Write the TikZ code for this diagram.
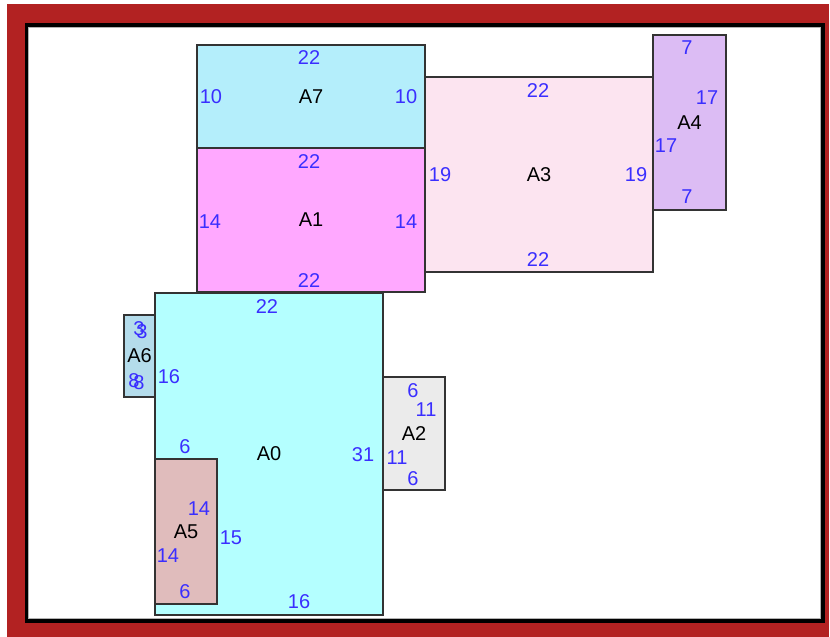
\documentclass[tikz,border=0pt]{standalone}
\usepackage{fontspec}
\setmainfont{Liberation Sans}
\definecolor{frame}{HTML}{B22222}
\definecolor{edge}{HTML}{333333}
\definecolor{lbl}{HTML}{3A2EFF}
\definecolor{cA7}{HTML}{B4EEFB}
\definecolor{cA1}{HTML}{FFA8FF}
\definecolor{cA3}{HTML}{FCE4F0}
\definecolor{cA4}{HTML}{DCBCF4}
\definecolor{cA0}{HTML}{B4FFFF}
\definecolor{cA6}{HTML}{B4DCEB}
\definecolor{cA2}{HTML}{EBEBEB}
\definecolor{cA5}{HTML}{E0BCBC}
\tikzset{
  room/.style={draw=edge, line width=2pt, rectangle, inner sep=0pt, outer sep=0pt,
    font=\fontsize{20}{23}\selectfont, text=black},
  dim/.style={inner sep=0pt, text=lbl, font=\fontsize{20}{23}\selectfont},
}
\newcommand{\roombox}[6]{% name, x1, y1, x2, y2, colour
  \node[room, fill=#6, minimum width={(#4-#2)*1pt}, minimum height={(#5-#3)*1pt}]
    (#1) at ({(#2+#4)/2},{(#3+#5)/2}) {#1};}
\begin{document}
\begin{tikzpicture}[x=1pt, y=-1pt]
\useasboundingbox (0,0) rectangle (830,637);
% frame
\fill[frame] (7,4) rectangle (829,637);
\fill[black] (25,23) rectangle (825,623);
\fill[white] (28,27) rectangle (821,619);
\draw[gray!60, line width=0.8pt] (28.5,27.5) rectangle (820.5,618.5);
% rooms
\roombox{A7}{197}{45}{425}{148}{cA7}
\roombox{A1}{197}{148}{425}{292}{cA1}
\roombox{A3}{425}{77}{653}{272}{cA3}
\roombox{A4}{653}{35}{726}{210}{cA4}
\roombox{A6}{124}{315}{155}{397}{cA6}
\roombox{A0}{155}{293}{383}{615}{cA0}
\roombox{A2}{383}{377}{445}{490}{cA2}
\roombox{A5}{155}{459}{217}{604}{cA5}
% A7 labels
\node[dim] (A7t) at (309,58) {22};
\node[dim] (A7l) at (211,97) {10};
\node[dim] (A7r) at (406,97) {10};
% A1 labels
\node[dim] (A1t) at (309,162) {22};
\node[dim] (A1l) at (210,222) {14};
\node[dim] (A1r) at (406,222) {14};
\node[dim] (A1b) at (309,281) {22};
% A3 labels
\node[dim] (A3t) at (538,91) {22};
\node[dim] (A3l) at (440,175) {19};
\node[dim] (A3r) at (636,175) {19};
\node[dim] (A3b) at (538,260) {22};
% A4 labels
\node[dim] (A4t) at (687,48) {7};
\node[dim] (A4r) at (707,98) {17};
\node[dim] (A4l) at (666,146) {17};
\node[dim] (A4b) at (687,197) {7};
% A0 labels
\node[dim] (A0t) at (267,307) {22};
\node[dim] (A0l) at (169,377) {16};
\node[dim] (A0r) at (363,455) {31};
\node[dim] (A0b) at (299,602) {16};
\node[dim] (A0s) at (185,447) {6};
\node[dim] (A0m) at (231,538) {15};
% A6 labels (overlapping in the original)
\node[dim] (A6ta) at (139,329) {3};
\node[dim] (A6tb) at (142,332) {3};
\node[dim] (A6ba) at (134,381) {8};
\node[dim] (A6bb) at (139,383) {8};
% A2 labels
\node[dim] (A2t) at (413,391) {6};
\node[dim] (A2r) at (426,410) {11};
\node[dim] (A2l) at (397,458) {11};
\node[dim] (A2b) at (413,479) {6};
% A5 labels
\node[dim] (A5r) at (199,509) {14};
\node[dim] (A5l) at (168,556) {14};
\node[dim] (A5b) at (185,592) {6};
\end{tikzpicture}
\end{document}
